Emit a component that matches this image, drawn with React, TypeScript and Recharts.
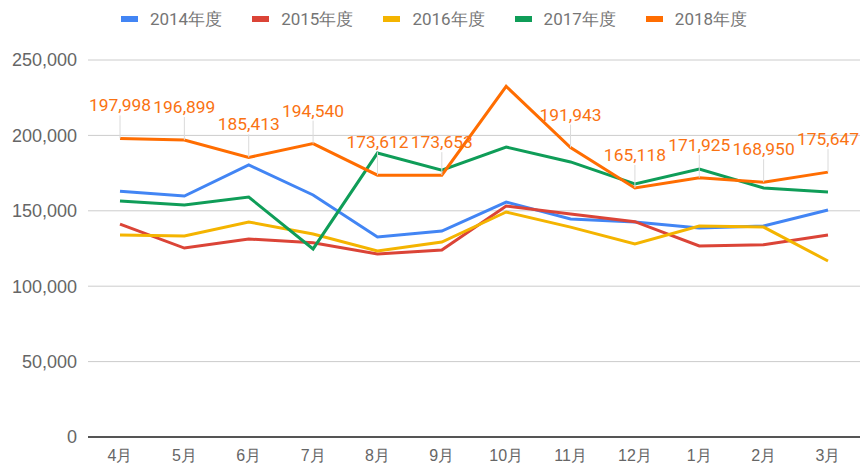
import { LineChart, Line, XAxis, YAxis, CartesianGrid, LabelList } from "recharts";

const MONTHS = ["4月", "5月", "6月", "7月", "8月", "9月", "10月", "11月", "12月", "1月", "2月", "3月"];

const FY2014 = [163000, 159800, 180400, 160500, 132600, 136600, 155800, 144600, 142600, 138600, 139900, 150500];
const FY2015 = [141200, 125300, 131300, 128800, 121300, 124000, 153200, 147900, 142800, 126700, 127500, 133900];
const FY2016 = [133900, 133300, 142600, 134600, 123300, 129300, 149200, 139200, 128000, 139900, 139200, 116700];
const FY2017 = [156500, 153800, 159100, 124700, 188300, 177000, 192300, 182400, 167800, 177700, 165100, 162500];
const FY2018 = [197998, 196899, 185413, 194540, 173612, 173653, 232500, 191943, 165118, 171925, 168950, 175647];

const SERIES = [
  { key: "fy2014", name: "2014年度", color: "#4285F4", values: FY2014 },
  { key: "fy2015", name: "2015年度", color: "#DB4437", values: FY2015 },
  { key: "fy2016", name: "2016年度", color: "#F4B400", values: FY2016 },
  { key: "fy2017", name: "2017年度", color: "#0F9D58", values: FY2017 },
  { key: "fy2018", name: "2018年度", color: "#FF6D01", values: FY2018 },
];

const Y_TICKS = [0, 50000, 100000, 150000, 200000, 250000];
// the peak month has no label in the original
const UNLABELED = ["10月"];

const data = MONTHS.map((m, i) => {
  const row: any = { month: m };
  SERIES.forEach((s) => (row[s.key] = s.values[i]));
  return row;
});

const fmt = (v: number) => v.toLocaleString("en-US");

function LeaderLabel(props: any) {
  const { x, y, value, index } = props;
  if (UNLABELED.includes(MONTHS[index])) return null;
  return (
    <g>
      <line x1={x} x2={x} y1={y - 23} y2={y} stroke="#dadada" strokeWidth={1} />
      <text
        x={x}
        y={y - 27}
        textAnchor="middle"
        fill="#FA7212"
        fontSize={17.4}
        fontFamily="Roboto, sans-serif"
      >
        {fmt(value)}
      </text>
    </g>
  );
}

export default function App() {
  return (
    <div style={{ position: "absolute", left: 0, top: 0, width: 868, height: 464, background: "#fff" }}>
      {/* legend */}
      <div
        style={{
          position: "absolute",
          top: 0,
          left: 0,
          width: 868,
          height: 38,
          display: "flex",
          justifyContent: "center",
          alignItems: "center",
          gap: 30,
          fontFamily: "Roboto, sans-serif",
          fontSize: 17,
          color: "#757575",
        }}
      >
        {SERIES.map((s) => (
          <div key={s.key} style={{ display: "flex", alignItems: "center" }}>
            <span style={{ width: 17, height: 6, background: s.color, marginRight: 12, display: "inline-block" }} />
            <span>{s.name}</span>
          </div>
        ))}
      </div>

      <LineChart width={868} height={464} data={data} margin={{ top: 60, right: 8, left: 0, bottom: 0 }}>
        <CartesianGrid vertical={false} stroke="#cccccc" />
        <XAxis
          dataKey="month"
          height={27}
          padding={{ left: 32, right: 32 }}
          axisLine={{ stroke: "#555", strokeWidth: 2 }}
          tickLine={false}
          tickMargin={7}
          tick={{ fill: "#666", fontSize: 16, fontFamily: "Liberation Sans, Arial, sans-serif" }}
          interval={0}
        />
        <YAxis
          width={88}
          domain={[0, 250000]}
          ticks={Y_TICKS}
          tickFormatter={fmt}
          axisLine={false}
          tickLine={false}
          tickMargin={5}
          tick={{ fill: "#666", fontSize: 18, fontFamily: "Liberation Sans, Arial, sans-serif" }}
        />
        {SERIES.map((s) => (
          <Line
            key={s.key}
            dataKey={s.key}
            name={s.name}
            stroke={s.color}
            strokeWidth={3}
            dot={false}
            activeDot={false}
            type="linear"
            isAnimationActive={false}
          >
            {s.key === "fy2018" && <LabelList dataKey={s.key} content={<LeaderLabel />} />}
          </Line>
        ))}
      </LineChart>
    </div>
  );
}
